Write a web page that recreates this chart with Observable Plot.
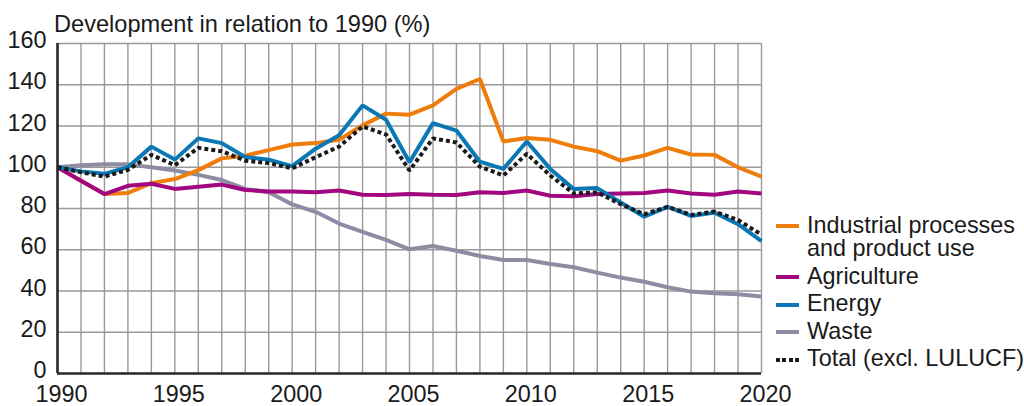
<!DOCTYPE html>
<html>
<head>
<meta charset="utf-8">
<script src="https://cdn.jsdelivr.net/npm/d3@7"></script>
<script src="https://cdn.jsdelivr.net/npm/@observablehq/plot@0.6"></script>
<style>
  body { margin: 0; background: #fff; font-family: "Liberation Sans", Arial, sans-serif; color: #1a1a1a; }
  #wrap { position: relative; width: 1024px; height: 406px; overflow: hidden; }
  #title { position: absolute; left: 54px; top: 13px; font-size: 23.6px; line-height: 23px; white-space: nowrap; }
  #legend { position: absolute; left: 807px; top: 213.6px; font-size: 23.4px; line-height: 23.5px; }
  .item { position: relative; margin-bottom: 4px; white-space: nowrap; }
  .sw { position: absolute; left: -31px; top: 10.5px; width: 23px; height: 4px; }
</style>
</head>
<body>
<div id="wrap">
  <div id="chart"></div>
  <div id="title"></div>
  <div id="legend"></div>
</div>
<script>
const years = [1990,1991,1992,1993,1994,1995,1996,1997,1998,1999,2000,2001,2002,2003,2004,2005,2006,2007,2008,2009,2010,2011,2012,2013,2014,2015,2016,2017,2018,2019,2020];
const industrial = [100,93.5,87,87.5,92.3,94.3,98.6,104.3,105.6,108.3,111,111.7,113.3,120.3,126,125.5,130,138,142.8,112.5,114.2,113.3,110,107.8,103.2,105.7,109.4,106.2,106,100,95.5];
const agriculture = [100,93.5,87,91,92,89.5,90.6,91.6,89,88.3,88.2,87.9,88.7,86.7,86.5,87,86.7,86.5,87.9,87.5,88.7,86.2,85.9,87,87.3,87.5,88.7,87.3,86.7,88.2,87.3];
const energy = [100,98,96.8,100,110,103.7,114,111.7,105,103.7,100.5,109,115.5,130,123,102.4,121.4,117.8,102.7,99.2,112.5,99.2,89.4,89.9,82.9,76,80.8,76.4,78,72.4,64.2];
const waste = [100,101,101.4,101.4,100,98.4,96.3,93.8,89.5,87.9,82,78.4,72.7,68.7,64.8,60.2,61.8,59.5,57,55,55,53.1,51.5,48.9,46.5,44.5,41.8,39.7,38.9,38.4,37.3];
const total = [100,97.6,95.5,98.7,106,101,109.4,107.8,103.2,102,99.5,104.9,110,119.8,115.9,98.4,114,112,100.3,96,106.5,96,87.3,87.8,82.1,77.2,80.8,76.9,78.5,74.4,67.3];

const xTickLabels = [1990,1995,2000,2005,2010,2015,2020];
const yTickLabels = [0,20,40,60,80,100,120,140,160];
const seriesNames = ["Industrial processes\nand product use","Agriculture","Energy","Waste","Total (excl. LULUCF)"];
const seriesColors = ["#ee7d0a","#a2077f","#0a78b4","#8c8ca2","#1a1a1a"];
const titleText = "Development in relation to 1990 (%)";

const seriesValues = [industrial, agriculture, energy, waste, total];
const rows = [];
seriesValues.forEach((vals, i) => vals.forEach((v, j) => rows.push({series: seriesNames[i], year: years[j], value: v})));
const bySeries = name => rows.filter(r => r.series === name);

const lineStyle = {x: "year", y: "value", strokeWidth: 4, strokeLinejoin: "miter", strokeLinecap: "butt"};

const chart = Plot.plot({
  width: 1024,
  height: 406,
  marginLeft: 57,
  marginRight: 263,
  marginTop: 43,
  marginBottom: 33,
  style: {fontFamily: "'Liberation Sans', Arial, sans-serif", fontSize: "23px", color: "#1a1a1a", background: "#fff", overflow: "visible"},
  x: {domain: [1990, 2020], label: null},
  y: {domain: [0, 160], label: null},
  marks: [
    Plot.gridX(years, {stroke: "#999", strokeOpacity: 1, strokeWidth: 1.4}),
    Plot.gridY(yTickLabels, {stroke: "#999", strokeOpacity: 1, strokeWidth: 1.4}),
    Plot.axisX({ticks: xTickLabels, tickSize: 0, tickPadding: 12, dx: 4, tickFormat: d => String(d), fontSize: 23.4, label: null}),
    Plot.axisY({ticks: yTickLabels, tickSize: 0, tickPadding: 11, dy: -3, fontSize: 23.4, label: null}),
    Plot.line(bySeries(seriesNames[3]), {...lineStyle, stroke: seriesColors[3]}),
    Plot.line(bySeries(seriesNames[0]), {...lineStyle, stroke: seriesColors[0]}),
    Plot.line(bySeries(seriesNames[1]), {...lineStyle, stroke: seriesColors[1]}),
    Plot.line(bySeries(seriesNames[2]), {...lineStyle, stroke: seriesColors[2]}),
    Plot.line(bySeries(seriesNames[4]), {...lineStyle, stroke: seriesColors[4], strokeDasharray: "4,3"}),
    Plot.ruleX([1990], {stroke: "#2a2a2a", strokeWidth: 2.6}),
    Plot.ruleY([0], {stroke: "#2a2a2a", strokeWidth: 2.6})
  ]
});
document.getElementById("chart").appendChild(chart);
document.getElementById("title").textContent = titleText;

const legend = document.getElementById("legend");
seriesNames.forEach((name, i) => {
  const item = document.createElement("div");
  item.className = "item";
  const sw = document.createElement("span");
  sw.className = "sw";
  if (i === 4) {
    sw.style.background = `repeating-linear-gradient(90deg, ${seriesColors[i]} 0 4px, transparent 4px 6.3px)`;
  } else {
    sw.style.background = seriesColors[i];
  }
  item.appendChild(sw);
  name.split("\n").forEach((line, k) => {
    if (k > 0) item.appendChild(document.createElement("br"));
    item.appendChild(document.createTextNode(line));
  });
  legend.appendChild(item);
});
</script>
</body>
</html>
